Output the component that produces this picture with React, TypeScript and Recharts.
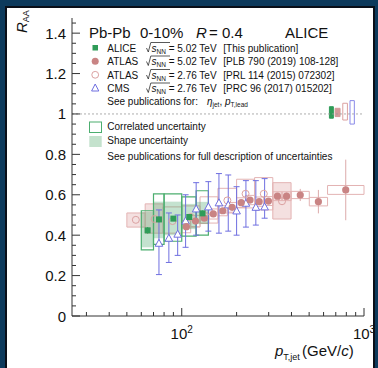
import React from 'react';
import { ComposedChart, XAxis, YAxis, Scatter, ErrorBar, ReferenceArea, ReferenceLine } from 'recharts';

const FONT = '"Liberation Sans", Arial, Helvetica, sans-serif';

// ---------- ALICE 5.02 TeV ----------
const aliceBinLo = [60, 70, 80, 100, 120];
const aliceBinHi = [70, 80, 100, 120, 140];
const alicePt = [65, 75, 90, 110, 130];
const aliceRaa = [0.424, 0.478, 0.482, 0.49, 0.508];
const aliceStat = [0.016, 0.014, 0.012, 0.012, 0.014];
const aliceCorrLo = [0.327, 0.355, 0.37, 0.395, 0.4];
const aliceCorrHi = [0.521, 0.604, 0.604, 0.59, 0.62];
const aliceShapeLo = [0.34, 0.385, 0.4, 0.43, 0.455];
const aliceShapeHi = [0.515, 0.566, 0.566, 0.555, 0.565];

// ---------- ATLAS 5.02 TeV ----------
const atlas5BinLo = [100, 112, 126, 141, 158, 178, 200, 224, 251, 282, 316, 355, 398, 501, 631];
const atlas5BinHi = [112, 126, 141, 158, 178, 200, 224, 251, 282, 316, 355, 398, 501, 631, 1000];
const atlas5Pt = [106, 119, 133, 149, 168, 189, 212, 237, 266, 299, 335, 376, 447, 562, 794];
const atlas5Raa = [0.442, 0.47, 0.484, 0.505, 0.521, 0.538, 0.561, 0.574, 0.566, 0.569, 0.593, 0.593, 0.599, 0.566, 0.624];
const atlas5Stat = [0.005, 0.005, 0.006, 0.006, 0.007, 0.008, 0.009, 0.01, 0.012, 0.013, 0.015, 0.018, 0.03, 0.058, 0.15];
const atlas5Sys = [0.03, 0.028, 0.026, 0.025, 0.025, 0.024, 0.024, 0.023, 0.023, 0.022, 0.022, 0.022, 0.018, 0.021, 0.022];

// ---------- ATLAS 2.76 TeV ----------
const atlas2BinLo = [50, 63, 79, 100, 126, 158, 200, 251, 316];
const atlas2BinHi = [63, 79, 100, 126, 158, 200, 251, 316, 398];
const atlas2Pt = [56, 71, 89, 112, 141, 178, 224, 282, 355];
const atlas2Raa = [0.476, 0.48, 0.47, 0.49, 0.52, 0.572, 0.605, 0.605, 0.568];
const atlas2SysLo = [0.44, 0.41, 0.41, 0.44, 0.46, 0.51, 0.535, 0.525, 0.48];
const atlas2SysHi = [0.51, 0.555, 0.54, 0.545, 0.59, 0.632, 0.677, 0.685, 0.66];
const atlas2ShadedBins = [0, 1, 8];

// ---------- CMS 2.76 TeV ----------
const cmsPt = [75, 85, 95, 105, 120, 140, 160, 180, 200, 225, 255, 285];
const cmsRaa = [0.36, 0.385, 0.405, 0.47, 0.53, 0.54, 0.56, 0.55, 0.52, 0.558, 0.538, 0.54];
const cmsLo = [0.205, 0.265, 0.3, 0.34, 0.4, 0.42, 0.41, 0.42, 0.4, 0.44, 0.45, 0.484];
const cmsHi = [0.525, 0.51, 0.5, 0.6, 0.66, 0.665, 0.705, 0.698, 0.64, 0.67, 0.67, 0.68];

// ---------- normalisation uncertainties (around R_AA = 1) ----------
const normLabels = ['ALICE 5.02', 'ATLAS 5.02', 'ATLAS 2.76', 'CMS 2.76'];
const normLo = [0.979, 0.987, 0.97, 0.95];
const normHi = [1.036, 1.028, 1.053, 1.066];
const normX1 = [646, 694, 765, 838];
const normX2 = [679, 739, 811, 885];

// ---------- axes ----------
const xMajor = [100, 1000];
const xMinor = [30, 40, 50, 60, 70, 80, 90, 200, 300, 400, 500, 600, 700, 800, 900];
const yMajor = [0, 0.2, 0.4, 0.6, 0.8, 1, 1.2, 1.4];
const yMinor = [0.05, 0.1, 0.15, 0.25, 0.3, 0.35, 0.45, 0.5, 0.55, 0.65, 0.7, 0.75, 0.85, 0.9, 0.95, 1.05, 1.1, 1.15, 1.25, 1.3, 1.35, 1.45];
const X_DOMAIN = [25, 1000];
const Y_DOMAIN = [0, 1.475];
const xTicks = [...xMinor, ...xMajor].sort((a, b) => a - b);
const yTicks = [...yMinor, ...yMajor].sort((a, b) => a - b);

const aliceRows = alicePt.map((x, i) => ({ x, y: aliceRaa[i], err: [aliceStat[i], aliceStat[i]] }));
const atlas5Rows = atlas5Pt.map((x, i) => ({ x, y: atlas5Raa[i], err: [atlas5Stat[i], atlas5Stat[i]] }));
const atlas2Rows = atlas2Pt.map((x, i) => ({ x, y: atlas2Raa[i] }));
const cmsRows = cmsPt.map((x, i) => ({ x, y: cmsRaa[i], err: [cmsRaa[i] - cmsLo[i], cmsHi[i] - cmsRaa[i]] }));

const GREEN = '#2f9c58';
const GREEN_LINE = '#4cae6f';
const PINK = '#c98484';
const PINK_LINE = '#e3b3b3';
const BLUE = '#6f6fe0';
const AXIS = '#333';

const Square = (p: any) => <rect x={p.cx - 3} y={p.cy - 3} width={6} height={6} fill={GREEN} />;
const Dot = (p: any) => <circle cx={p.cx} cy={p.cy} r={3.6} fill={PINK} />;
const OpenDot = (p: any) => <circle cx={p.cx} cy={p.cy} r={3.5} fill="none" stroke="#dba1a1" strokeWidth={1} />;
const Tri = (p: any) => (
  <path d={`M${p.cx},${p.cy - 4} L${p.cx + 3.8},${p.cy + 3} L${p.cx - 3.8},${p.cy + 3} Z`} fill="#fff" stroke={BLUE} strokeWidth={1} />
);

const BottomTick = (p: any) => {
  const v = p.payload.value;
  const major = xMajor.includes(v);
  return (
    <g>
      <line x1={p.x} x2={p.x} y1={p.y} y2={p.y - (major ? 8 : 4)} stroke={AXIS} strokeWidth={1} />
      {major && (
        <text x={p.x} y={p.y + 23} textAnchor="middle" fontSize={15} fill="#111" fontFamily={FONT}>
          10<tspan dy={-6} fontSize={10}>{Math.round(Math.log10(v))}</tspan>
        </text>
      )}
    </g>
  );
};
const TopTick = (p: any) => {
  const major = xMajor.includes(p.payload.value);
  return <line x1={p.x} x2={p.x} y1={p.y} y2={p.y + (major ? 8 : 4)} stroke={AXIS} strokeWidth={1} />;
};
const yFmt = (v: number) => (v === 0 ? '0' : v === 1 ? '1' : v.toFixed(1));
const isYMajor = (v: number) => yMajor.some((m) => Math.abs(m - v) < 1e-6);
const LeftTick = (p: any) => {
  const v = p.payload.value;
  const major = isYMajor(v);
  return (
    <g>
      <line x1={p.x} x2={p.x + (major ? 8 : 4)} y1={p.y} y2={p.y} stroke={AXIS} strokeWidth={1} />
      {major && (
        <text x={p.x - 6} y={p.y + 5.5} textAnchor="end" fontSize={15} fill="#111" fontFamily={FONT}>{yFmt(v)}</text>
      )}
    </g>
  );
};
const RightTick = (p: any) => {
  const major = isYMajor(p.payload.value);
  return <line x1={p.x} x2={p.x - (major ? 8 : 4)} y1={p.y} y2={p.y} stroke={AXIS} strokeWidth={1} />;
};

const App = () => {
  return (
    <div style={{ position: 'absolute', left: 0, top: 0, width: 378, height: 368, background: '#0d3a5c', overflow: 'hidden', fontFamily: FONT }}>
      <div style={{ position: 'absolute', left: 5, top: 6, width: 370, height: 366, background: '#fff', border: '2px solid #0a0f18', boxSizing: 'border-box' }} />
      <div style={{ position: 'absolute', left: 0, top: 0 }}>
        <ComposedChart width={378} height={368} margin={{ top: 18, right: 14, bottom: 0, left: 12 }}>
          <XAxis xAxisId="x" dataKey="x" type="number" scale="log" domain={X_DOMAIN} allowDataOverflow ticks={xTicks} interval={0}
            height={52} tickSize={0} tickMargin={0} tick={<BottomTick />} axisLine={{ stroke: AXIS }} stroke={AXIS} />
          <XAxis xAxisId="xt" orientation="top" type="number" scale="log" domain={X_DOMAIN} allowDataOverflow ticks={xTicks} interval={0}
            height={0} tickSize={0} tickMargin={0} tick={<TopTick />} axisLine={{ stroke: AXIS }} stroke={AXIS} />
          <YAxis yAxisId="y" type="number" domain={Y_DOMAIN} allowDataOverflow ticks={yTicks} interval={0} width={60}
            tickSize={0} tickMargin={0} tick={<LeftTick />} axisLine={{ stroke: AXIS }} stroke={AXIS} />
          <YAxis yAxisId="yr" orientation="right" type="number" domain={Y_DOMAIN} allowDataOverflow ticks={yTicks} interval={0} width={0}
            tickSize={0} tickMargin={0} tick={<RightTick />} axisLine={{ stroke: AXIS }} stroke={AXIS} />

          <ReferenceLine xAxisId="x" yAxisId="y" y={1} stroke="#999" strokeDasharray="2 2" strokeWidth={0.8} />

          {atlas2ShadedBins.map((i) => (
            <ReferenceArea key={'a2s' + i} xAxisId="x" yAxisId="y" x1={atlas2BinLo[i]} x2={atlas2BinHi[i]} y1={atlas2SysLo[i]} y2={atlas2SysHi[i]}
              fill="#d98f8f" fillOpacity={0.28} stroke="none" ifOverflow="visible" />
          ))}
          {atlas2BinLo.map((lo, i) => (
            <ReferenceArea key={'a2b' + i} xAxisId="x" yAxisId="y" x1={lo} x2={atlas2BinHi[i]} y1={atlas2SysLo[i]} y2={atlas2SysHi[i]}
              fill="none" stroke={PINK_LINE} strokeWidth={1} ifOverflow="visible" />
          ))}
          {atlas5BinLo.map((lo, i) => (
            <ReferenceArea key={'a5b' + i} xAxisId="x" yAxisId="y" x1={lo} x2={atlas5BinHi[i]} y1={atlas5Raa[i] - atlas5Sys[i]} y2={atlas5Raa[i] + atlas5Sys[i]}
              fill="none" stroke={PINK_LINE} strokeWidth={1} ifOverflow="visible" />
          ))}
          {aliceBinLo.map((lo, i) => (
            <ReferenceArea key={'als' + i} xAxisId="x" yAxisId="y" x1={lo} x2={aliceBinHi[i]} y1={aliceShapeLo[i]} y2={aliceShapeHi[i]}
              fill="#3d9e5f" fillOpacity={0.3} stroke="none" ifOverflow="visible" />
          ))}
          {aliceBinLo.map((lo, i) => (
            <ReferenceArea key={'alc' + i} xAxisId="x" yAxisId="y" x1={lo} x2={aliceBinHi[i]} y1={aliceCorrLo[i]} y2={aliceCorrHi[i]}
              fill="none" stroke={GREEN_LINE} strokeWidth={1.2} ifOverflow="visible" />
          ))}
          {normLabels.map((n, i) => (
            <ReferenceArea key={'nb' + i} xAxisId="x" yAxisId="y" x1={normX1[i]} x2={normX2[i]} y1={normLo[i]} y2={normHi[i]}
              fill={i === 0 ? GREEN : i === 1 ? '#d49a9a' : '#fff'} fillOpacity={1}
              stroke={i === 0 ? GREEN : i === 1 ? '#d49a9a' : i === 2 ? '#dba1a1' : '#8a8ae8'} strokeWidth={1} ifOverflow="visible" />
          ))}

          <Scatter name="ATLAS 2.76" xAxisId="x" yAxisId="y" data={atlas2Rows} dataKey="y" shape={OpenDot} isAnimationActive={false} />
          <Scatter name="CMS 2.76" xAxisId="x" yAxisId="y" data={cmsRows} dataKey="y" shape={Tri} isAnimationActive={false}>
            <ErrorBar dataKey="err" direction="y" width={3} stroke={BLUE} strokeWidth={1} isAnimationActive={false} />
          </Scatter>
          <Scatter name="ATLAS 5.02" xAxisId="x" yAxisId="y" data={atlas5Rows} dataKey="y" shape={Dot} isAnimationActive={false}>
            <ErrorBar dataKey="err" direction="y" width={0} stroke="#dcaaaa" strokeWidth={1} isAnimationActive={false} />
          </Scatter>
          <Scatter name="ALICE 5.02" xAxisId="x" yAxisId="y" data={aliceRows} dataKey="y" shape={Square} isAnimationActive={false}>
            <ErrorBar dataKey="err" direction="y" width={0} stroke={GREEN} strokeWidth={1} isAnimationActive={false} />
          </Scatter>
        </ComposedChart>
      </div>

      <svg width={378} height={368} style={{ position: 'absolute', left: 0, top: 0, pointerEvents: 'none' }} fontFamily={FONT} fill="#111">
        <text transform="translate(27,33) rotate(-90)" fontSize={15} fontStyle="italic">
          R<tspan fontSize={9} fontStyle="normal" dy={1.5}>AA</tspan>
        </text>
        <text x={275} y={355.5} fontSize={15}>
          <tspan fontStyle="italic">p</tspan>
          <tspan fontSize={9} dy={4}>T,jet</tspan>
          <tspan x={302} dy={-4}>(GeV/</tspan>
          <tspan fontStyle="italic">c</tspan>
          <tspan>)</tspan>
        </text>

        <text y={37.5} fontSize={15}>
          <tspan x={89}>Pb-Pb</tspan>
          <tspan x={140}>0-10%</tspan>
          <tspan x={196} fontStyle="italic">R</tspan>
          <tspan x={209}>= 0.4</tspan>
          <tspan x={285}>ALICE</tspan>
        </text>

        <rect x={92.5} y={45} width={5.5} height={5.5} fill={GREEN} />
        <circle cx={95.2} cy={61.3} r={3.5} fill={PINK} />
        <circle cx={95.2} cy={74.8} r={3.4} fill="none" stroke="#dba1a1" strokeWidth={1} />
        <path d="M95.2,84 L98.8,91 L91.6,91 Z" fill="#fff" stroke={BLUE} strokeWidth={1} />
        {[
          ['ALICE', '5.02', '[This publication]'],
          ['ATLAS', '5.02', '[PLB 790 (2019) 108-128]'],
          ['ATLAS', '2.76', '[PRL 114 (2015) 072302]'],
          ['CMS', '2.76', '[PRC 96 (2017) 015202]'],
        ].map((r, i) => {
          const by = 51.5 + 13.5 * i;
          return (
            <g key={'lg' + i}>
              <text x={107.3} y={by} fontSize={10}>{r[0]}</text>
              <path d={`M146.5,${by - 3.5} L148.3,${by + 0.5} L150.8,${by - 9} L170,${by - 9}`} fill="none" stroke="#111" strokeWidth={0.7} />
              <text x={151.5} y={by} fontSize={10}>
                <tspan fontStyle="italic">s</tspan>
                <tspan fontSize={6.5} dy={2}>NN</tspan>
                <tspan dy={-2}> = {r[1]} TeV</tspan>
              </text>
              <text x={223.3} y={by} fontSize={10}>{r[2]}</text>
            </g>
          );
        })}
        <text x={107.3} y={104.5} fontSize={10}>
          See publications for:
          <tspan x={207} fontStyle="italic">η</tspan>
          <tspan fontSize={6.5} dy={2}>jet</tspan>
          <tspan dy={-2}>, </tspan>
          <tspan fontStyle="italic">p</tspan>
          <tspan fontSize={6.5} dy={2}>T,lead</tspan>
        </text>

        <rect x={89.5} y={122} width={12} height={10.5} fill="none" stroke={GREEN_LINE} strokeWidth={1} />
        <text x={107.3} y={129.5} fontSize={10}>Correlated uncertainty</text>
        <rect x={89.3} y={136} width={12.4} height={11} fill="#c4e2cd" />
        <text x={107.3} y={144} fontSize={10}>Shape uncertainty</text>
        <text x={107.3} y={160} fontSize={10}>See publications for full description of uncertainties</text>
      </svg>
    </div>
  );
};

export default App;
